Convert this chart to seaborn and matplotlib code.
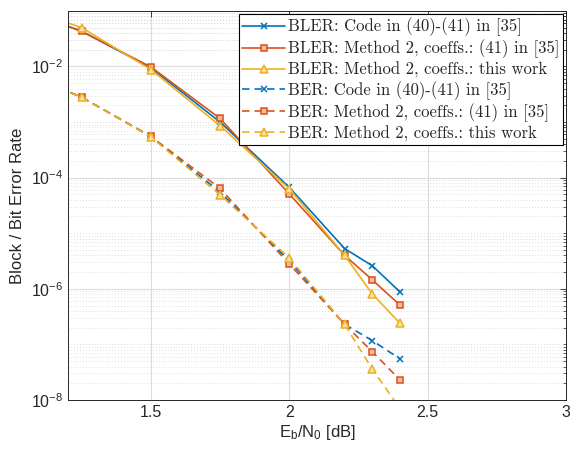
import matplotlib
matplotlib.use('Agg')
import matplotlib.pyplot as plt
import numpy as np
import pandas as pd
import seaborn as sns
from matplotlib.font_manager import FontProperties
from matplotlib.ticker import NullFormatter, FixedLocator

ebn0 = [1.0, 1.25, 1.5, 1.75, 2.0, 2.2, 2.3, 2.4]

bler_code = [0.12, 0.043, 0.0095, 1.0e-3, 6.7e-5, 5.3e-6, 2.6e-6, 8.8e-7]
bler_m2_35 = [0.12, 0.043, 0.0098, 1.16e-3, 5.1e-5, 4.0e-6, 1.45e-6, 5.1e-7]
bler_m2_tw = [0.13, 0.050, 0.0088, 8.6e-4, 6.3e-5, 4.0e-6, 8.1e-7, 2.4e-7]

ber_code = [9.0e-3, 2.8e-3, 5.5e-4, 5.5e-5, 3.2e-6, 2.3e-7, 1.17e-7, 5.5e-8]
ber_m2_35 = [9.0e-3, 2.8e-3, 5.5e-4, 6.4e-5, 2.8e-6, 2.3e-7, 7.4e-8, 2.3e-8]
ber_m2_tw = [9.0e-3, 2.8e-3, 5.4e-4, 4.9e-5, 3.6e-6, 2.3e-7, 3.6e-8, 7.0e-9]

labels = [
    'BLER: Code in (40)-(41) in [35]',
    'BLER: Method 2, coeffs.: (41) in [35]',
    'BLER: Method 2, coeffs.: this work',
    'BER: Code in (40)-(41) in [35]',
    'BER: Method 2, coeffs.: (41) in [35]',
    'BER: Method 2, coeffs.: this work',
]
series = [bler_code, bler_m2_35, bler_m2_tw, ber_code, ber_m2_35, ber_m2_tw]

blue, orange, yellow = '#0072BD', '#D95319', '#EDB120'
colors = [blue, orange, yellow] * 2
faces = ['none', '#F4B9A3', '#F8E0A6'] * 2
markers = ['x', 's', '^'] * 2
msizes = [4.5, 4.3, 6.3] * 2
styles = ['-'] * 3 + [(0, (4.5, 3))] * 3

sns.set_style('white')
plt.rcParams['font.family'] = ['Liberation Sans', 'DejaVu Sans']
plt.rcParams['mathtext.fontset'] = 'custom'
plt.rcParams['mathtext.rm'] = 'Liberation Sans'
plt.rcParams['mathtext.it'] = 'Liberation Sans:italic'

fig = plt.figure(figsize=(5.7, 4.54), dpi=100)
ax = fig.add_axes([0.119, 0.119, 0.874, 0.857])

for vals, lab, c, fc, m, ms, ls in zip(series, labels, colors, faces, markers, msizes, styles):
    df = pd.DataFrame({'x': ebn0, 'y': vals})
    sns.lineplot(data=df, x='x', y='y', ax=ax, color=c, linestyle=ls, linewidth=1.2,
                 marker=m, markersize=ms, markerfacecolor=fc if m != 'x' else c,
                 markeredgecolor=c, markeredgewidth=1.1, label=lab)

ax.set_yscale('log')
ax.set_xlim(1.2, 3.0)
ax.set_ylim(1e-8, 1e-1)
ax.xaxis.set_major_locator(FixedLocator([1.5, 2.0, 2.5, 3.0]))
ax.set_xticklabels(['1.5', '2', '2.5', '3'])
ax.yaxis.set_major_locator(FixedLocator([1e-8, 1e-6, 1e-4, 1e-2]))
ax.set_yticklabels([r'10$^{-8}$', r'10$^{-6}$', r'10$^{-4}$', r'10$^{-2}$'])
minor = [k * 10.0 ** e for e in range(-8, -1) for k in range(1, 10)] + [1e-2 * k for k in range(1, 11)]
minor = [v for v in minor if v not in (1e-8, 1e-6, 1e-4, 1e-2)]
ax.yaxis.set_minor_locator(FixedLocator(minor))
ax.yaxis.set_minor_formatter(NullFormatter())

ax.grid(True, which='major', color='#DCDCDC', linewidth=0.8, linestyle='-')
ax.grid(True, which='minor', axis='y', color='#D4D4D4', linewidth=0.6, linestyle=(0, (1, 2.5)))
ax.set_axisbelow(True)

ax.tick_params(which='both', direction='in', top=True, right=True, labelsize=11.5, colors='#262626')
ax.tick_params(which='major', length=4, width=0.6)
ax.tick_params(which='minor', length=2.2, width=0.5)
for s in ax.spines.values():
    s.set_color('#262626')
    s.set_linewidth(0.7)

ax.set_xlabel(r'E$_\mathrm{b}$/N$_\mathrm{0}$ [dB]', fontsize=12, color='#262626', labelpad=2)
ax.set_ylabel('Block / Bit Error Rate', fontsize=12, color='#262626', labelpad=4)

leg = ax.legend(loc='upper right', prop=FontProperties(family='cmr10', size=12.0),
                frameon=True, fancybox=False, edgecolor='black', framealpha=1,
                borderpad=0.2, labelspacing=0.2, handlelength=2.6, handletextpad=0.15,
                borderaxespad=0.2)
leg.get_frame().set_linewidth(0.8)

fig.savefig('out.png', dpi=100)
